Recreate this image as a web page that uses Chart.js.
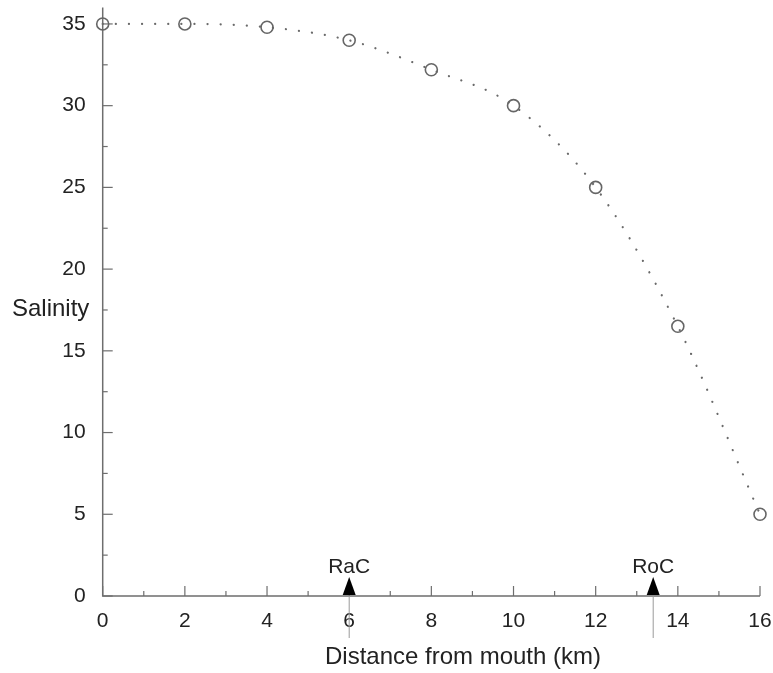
<!DOCTYPE html>
<html>
<head>
<meta charset="utf-8">
<script src="https://cdn.jsdelivr.net/npm/chart.js@4.4.1/dist/chart.umd.min.js"></script>
<style>
  html, body { margin: 0; padding: 0; background: #fff; }
  #wrap { width: 773px; height: 673px; }
</style>
</head>
<body>
<div id="wrap"><canvas id="salinity-chart" width="773" height="673"></canvas></div>
<script>
// Salinity measured along the estuary
const distanceKm = [0, 2, 4, 6, 8, 10, 12, 14, 16];
const salinity = [35, 35, 34.8, 34, 32.2, 30, 25, 16.5, 5];

// tick positions (labelled ones are every 5 / every 2)
const yTickValues = [0, 2.5, 5, 7.5, 10, 12.5, 15, 17.5, 20, 22.5, 25, 27.5, 30, 32.5, 35];
const xTickValues = [0, 1, 2, 3, 4, 5, 6, 7, 8, 9, 10, 11, 12, 13, 14, 15, 16];

// Markers on the distance axis
const markerKm = [6, 13.4];
const markerNames = ['RaC', 'RoC'];

const xTitle = 'Distance from mouth (km)';
const yTitle = 'Salinity';

const FONT = "'Liberation Sans', Arial, Helvetica, sans-serif";
Chart.defaults.font.family = FONT;

// draws inward ticks, axis lines, markers and titles
const axisPlugin = {
    id: 'axisPlugin',
    beforeDatasetsDraw(chart) {
        const { ctx, chartArea: a, scales: { x, y } } = chart;
        ctx.save();
        ctx.strokeStyle = '#6e6e6e';
        ctx.lineWidth = 1.5;
        ctx.beginPath();
        ctx.moveTo(a.left, a.top);
        ctx.lineTo(a.left, a.bottom);
        ctx.lineTo(a.right, a.bottom);
        ctx.stroke();

        ctx.lineWidth = 1.2;
        y.ticks.forEach(t => {
            const p = y.getPixelForValue(t.value);
            const len = t.value % 5 === 0 ? 10 : 5;
            ctx.beginPath();
            ctx.moveTo(a.left, p);
            ctx.lineTo(a.left + len, p);
            ctx.stroke();
        });
        x.ticks.forEach(t => {
            const p = x.getPixelForValue(t.value);
            const len = t.value % 2 === 0 ? 10 : 5;
            ctx.beginPath();
            ctx.moveTo(p, a.bottom);
            ctx.lineTo(p, a.bottom - len);
            ctx.stroke();
        });
        ctx.restore();
    },
    afterDraw(chart) {
        const { ctx, chartArea: a, scales: { x } } = chart;
        ctx.save();
        markerKm.forEach((v, i) => {
            const px = x.getPixelForValue(v);
            ctx.strokeStyle = '#9a9a9a';
            ctx.lineWidth = 1;
            ctx.beginPath();
            ctx.moveTo(px, a.bottom);
            ctx.lineTo(px, a.bottom + 42);
            ctx.stroke();

            ctx.fillStyle = '#000';
            ctx.beginPath();
            ctx.moveTo(px - 6.5, a.bottom - 1);
            ctx.lineTo(px + 6.5, a.bottom - 1);
            ctx.lineTo(px, a.bottom - 19);
            ctx.closePath();
            ctx.fill();

            ctx.fillStyle = '#222';
            ctx.font = '21px ' + FONT;
            ctx.textAlign = 'center';
            ctx.textBaseline = 'middle';
            ctx.fillText(markerNames[i], px, a.bottom - 29);
        });

        ctx.fillStyle = '#222';
        ctx.font = '24px ' + FONT;
        ctx.textAlign = 'center';
        ctx.textBaseline = 'middle';
        ctx.fillText(xTitle, 463, 657);
        ctx.textAlign = 'left';
        ctx.fillText(yTitle, 12, 309);
        ctx.restore();
    }
};

const noScalePadding = s => {
    s.paddingTop = 0; s.paddingBottom = 0;
    s.paddingLeft = 0; s.paddingRight = 0;
};

const ctx = document.getElementById('salinity-chart').getContext('2d');
new Chart(ctx, {
    type: 'line',
    data: {
        datasets: [{
            data: distanceKm.map((d, i) => ({ x: d, y: salinity[i] })),
            borderColor: '#6a6a6a',
            borderWidth: 2.2,
            borderDash: [0.1, 13],
            borderCapStyle: 'round',
            cubicInterpolationMode: 'monotone',
            pointRadius: 6,
            pointBorderWidth: 1.6,
            pointBorderColor: '#666',
            pointBackgroundColor: 'rgba(0,0,0,0)',
            fill: false,
            clip: false
        }]
    },
    options: {
        responsive: false,
        animation: false,
        layout: { padding: { top: 7, right: 13, bottom: 0, left: 0 } },
        plugins: { legend: { display: false }, tooltip: { enabled: false } },
        scales: {
            x: {
                type: 'linear',
                min: 0,
                max: 16,
                afterBuildTicks: s => { s.ticks = xTickValues.map(v => ({ value: v })); },
                afterFit: s => { s.height = 77; noScalePadding(s); },
                grid: { display: false, drawTicks: false },
                border: { display: false },
                ticks: {
                    autoSkip: false,
                    maxRotation: 0,
                    padding: 13,
                    color: '#222',
                    font: { size: 21 },
                    callback: v => (v % 2 === 0 ? v : '')
                }
            },
            y: {
                type: 'linear',
                min: 0,
                max: 36,
                afterBuildTicks: s => { s.ticks = yTickValues.map(v => ({ value: v })); },
                afterFit: s => { s.width = 102.7; noScalePadding(s); },
                grid: { display: false, drawTicks: false },
                border: { display: false },
                ticks: {
                    autoSkip: false,
                    padding: 17,
                    color: '#222',
                    font: { size: 21 },
                    callback: v => (v % 5 === 0 ? v : '')
                }
            }
        }
    },
    plugins: [axisPlugin]
});
</script>
</body>
</html>
